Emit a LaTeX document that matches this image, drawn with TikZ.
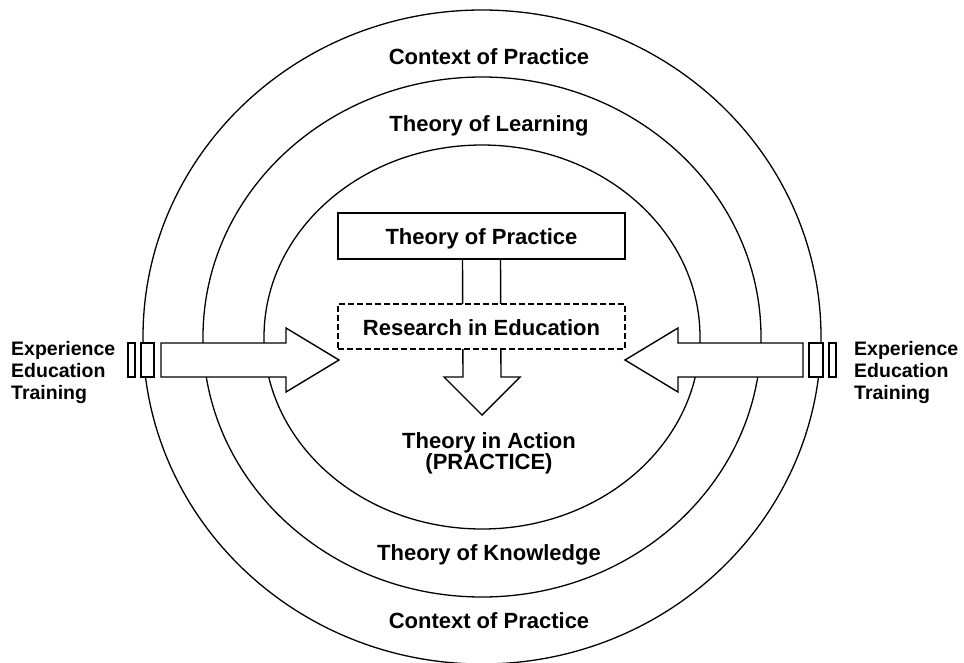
\documentclass[tikz,border=0pt]{standalone}
\usepackage{fontspec}
\setmainfont{Liberation Sans}
\usetikzlibrary{calc,backgrounds}
\begin{document}
\begin{tikzpicture}[x=1pt, y=-1pt, line join=miter,
  ring/.style={draw, line width=1.3pt},
  ringlabel/.style={font=\bfseries\fontsize{22}{26}\selectfont, inner sep=0pt, anchor=base},
  sidelabel/.style={font=\bfseries\fontsize{19.5}{22}\selectfont, align=left, inner sep=0pt, anchor=west},
  block/.style={draw, fill=white, line width=1.4pt},
  stagebox/.style={block, font=\bfseries\fontsize{22}{26}\selectfont, inner sep=0pt,
    minimum width=287pt, text height=17pt, text depth=0pt},
  bar/.style={block, inner sep=0pt, minimum height=34pt},
]
\useasboundingbox (0,0) rectangle (964,662);

% concentric rings
\coordinate (c) at (482,337);
\draw[ring] (c) ellipse [x radius=339pt, y radius=327pt];
\draw[ring] (c) ellipse [x radius=279pt, y radius=260pt];
\draw[ring] (c) ellipse [x radius=218pt, y radius=192pt];

% ring labels
\node[ringlabel] (ctxtop) at (489,64) {Context of Practice};
\node[ringlabel] (learn) at (489,131) {Theory of Learning};
\node[ringlabel] (know) at (489,560) {Theory of Knowledge};
\node[ringlabel] (ctxbot) at (489,628) {Context of Practice};

% the two stacked boxes
\node[stagebox, minimum height=46pt] (top) at (481.5,236) {Theory of Practice};
\node[stagebox, minimum height=45pt, dash pattern=on 6pt off 3pt] (research) at (481.5,326.5) {Research in Education};

% downward block arrow running behind both boxes
\coordinate (tip) at (482,415);
\begin{scope}[on background layer]
\draw[block] ($(top.south)+(-19,0)$) -- ($(tip)+(-19,-38)$) -- ($(tip)+(-38,-38)$)
  -- (tip) -- ($(tip)+(38,-38)$) -- ($(tip)+(19,-38)$) -- ($(top.south)+(19,0)$);
\end{scope}

\node[font=\bfseries\fontsize{22}{21}\selectfont, align=center, inner sep=0pt, anchor=north]
  (action) at (489,432) {Theory in Action\\(PRACTICE)};

% left incoming arrow
\coordinate (ltail) at (161,360);
\coordinate (ltip) at (339,360);
\draw[block] ($(ltail)+(0,-17)$) -- ($(ltip)+(-53,-17)$) -- ($(ltip)+(-53,-32)$) -- (ltip)
  -- ($(ltip)+(-53,32)$) -- ($(ltip)+(-53,17)$) -- ($(ltail)+(0,17)$) -- cycle;
\node[bar, minimum width=13pt] (lbar2) at (147.5,360) {};
\node[bar, minimum width=7pt] (lbar1) at (131.5,360) {};

% right incoming arrow
\coordinate (rtail) at (803,360);
\coordinate (rtip) at (625,360);
\draw[block] ($(rtail)+(0,-17)$) -- ($(rtip)+(53,-17)$) -- ($(rtip)+(53,-32)$) -- (rtip)
  -- ($(rtip)+(53,32)$) -- ($(rtip)+(53,17)$) -- ($(rtail)+(0,17)$) -- cycle;
\node[bar, minimum width=14pt] (rbar2) at (816,360) {};
\node[bar, minimum width=7pt] (rbar1) at (832.5,360) {};

% side labels
\node[sidelabel] (lsrc) at (11,372) {Experience\\Education\\Training};
\node[sidelabel] (rsrc) at (854,372) {Experience\\Education\\Training};
\end{tikzpicture}
\end{document}
